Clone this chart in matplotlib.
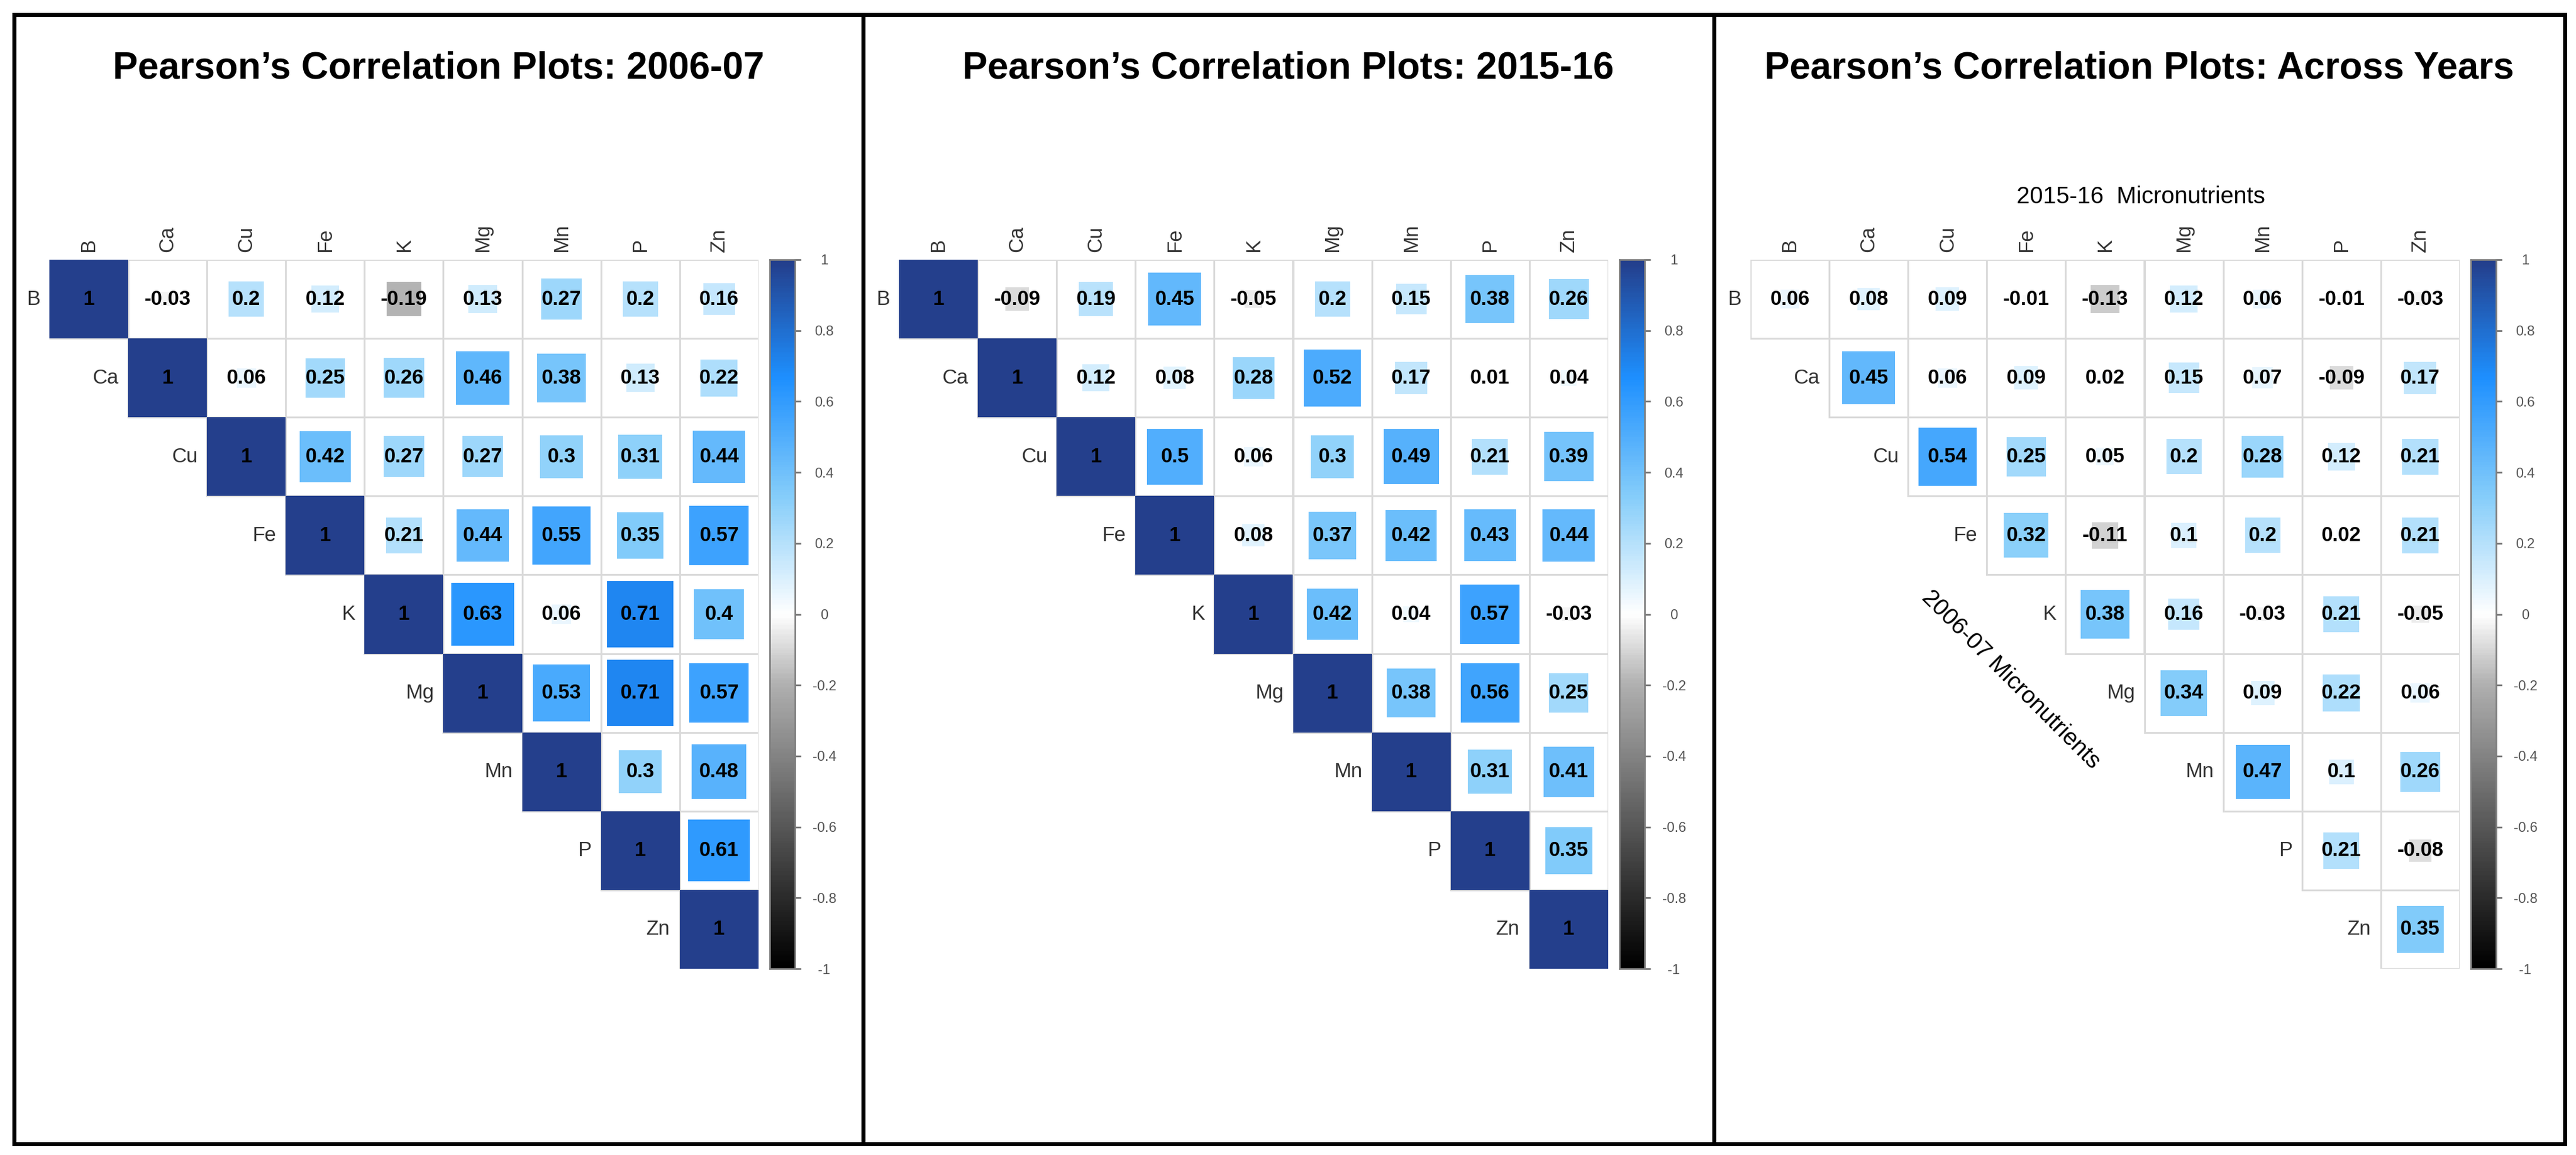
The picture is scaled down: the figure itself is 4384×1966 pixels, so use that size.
import numpy as np
import matplotlib
matplotlib.use("Agg")
import matplotlib.pyplot as plt
from matplotlib import font_manager
from matplotlib.colors import LinearSegmentedColormap
from matplotlib.patches import Rectangle
from matplotlib.lines import Line2D

# ---- data -------------------------------------------------------------
elements = ["B", "Ca", "Cu", "Fe", "K", "Mg", "Mn", "P", "Zn"]

# upper triangle rows (diagonal first)
corr_0607 = [
    [1, -0.03, 0.2, 0.12, -0.19, 0.13, 0.27, 0.2, 0.16],
    [1, 0.06, 0.25, 0.26, 0.46, 0.38, 0.13, 0.22],
    [1, 0.42, 0.27, 0.27, 0.3, 0.31, 0.44],
    [1, 0.21, 0.44, 0.55, 0.35, 0.57],
    [1, 0.63, 0.06, 0.71, 0.4],
    [1, 0.53, 0.71, 0.57],
    [1, 0.3, 0.48],
    [1, 0.61],
    [1],
]

corr_1516 = [
    [1, -0.09, 0.19, 0.45, -0.05, 0.2, 0.15, 0.38, 0.26],
    [1, 0.12, 0.08, 0.28, 0.52, 0.17, 0.01, 0.04],
    [1, 0.5, 0.06, 0.3, 0.49, 0.21, 0.39],
    [1, 0.08, 0.37, 0.42, 0.43, 0.44],
    [1, 0.42, 0.04, 0.57, -0.03],
    [1, 0.38, 0.56, 0.25],
    [1, 0.31, 0.41],
    [1, 0.35],
    [1],
]

corr_across = [
    [0.06, 0.08, 0.09, -0.01, -0.13, 0.12, 0.06, -0.01, -0.03],
    [0.45, 0.06, 0.09, 0.02, 0.15, 0.07, -0.09, 0.17],
    [0.54, 0.25, 0.05, 0.2, 0.28, 0.12, 0.21],
    [0.32, -0.11, 0.1, 0.2, 0.02, 0.21],
    [0.38, 0.16, -0.03, 0.21, -0.05],
    [0.34, 0.09, 0.22, 0.06],
    [0.47, 0.1, 0.26],
    [0.21, -0.08],
    [0.35],
]

titles = [
    "Pearson\u2019s Correlation Plots: 2006-07",
    "Pearson\u2019s Correlation Plots: 2015-16",
    "Pearson\u2019s Correlation Plots: Across Years",
]
cbar_ticks = [-1, -0.8, -0.6, -0.4, -0.2, 0, 0.2, 0.4, 0.6, 0.8, 1]

# ---- setup ------------------------------------------------------------
W, H = 4384, 1966
DPI = 100
fig = plt.figure(figsize=(W / DPI, H / DPI), dpi=DPI)
fig.patch.set_facecolor("white")

names = {f.name for f in font_manager.fontManager.ttflist}
if "Liberation Sans Narrow" in names:
    title_font, title_size = "Liberation Sans Narrow", 50
else:
    title_font, title_size = "Liberation Sans", 46
base_font = "Liberation Sans"

cmap = LinearSegmentedColormap.from_list(
    "corr",
    [(0.0, "#000000"), (0.4, "#b0b0b0"), (0.5, "#ffffff"),
     (0.665, "#87cefa"), (0.835, "#1e90ff"), (1.0, "#243f8c")],
)


def px_axes(x0, y0, x1, y1):
    # pixel box (y from top) -> axes
    return fig.add_axes([x0 / W, 1 - y1 / H, (x1 - x0) / W, (y1 - y0) / H])


def draw_corr(ax, rows):
    n = len(elements)
    ax.set_xlim(0, n)
    ax.set_ylim(n, 0)
    ax.axis("off")
    for i, row in enumerate(rows):
        for k, v in enumerate(row):
            j = i + k
            ax.add_patch(Rectangle((j, i), 1, 1, facecolor="none",
                                   edgecolor="#dadada", lw=2.2, zorder=1))
            s = np.sqrt(abs(v))
            ax.add_patch(Rectangle((j + 0.5 - s / 2, i + 0.5 - s / 2), s, s,
                                   facecolor=cmap((v + 1) / 2),
                                   edgecolor="none", zorder=2))
            ax.text(j + 0.5, i + 0.5, f"{v:g}", ha="center", va="center",
                    fontsize=25, fontweight="bold", family=base_font,
                    color="black", zorder=3)
        ax.text(i - 0.12, i + 0.5, elements[i], ha="right", va="center",
                fontsize=25, family=base_font, color="#333333", clip_on=False)
    for j, name in enumerate(elements):
        ax.text(j + 0.5, -0.1, name, ha="center", va="bottom", rotation=90,
                fontsize=25, family=base_font, color="#333333", clip_on=False)


def draw_cbar(cax):
    grad = np.linspace(-1, 1, 400).reshape(-1, 1)
    cax.imshow(grad, cmap=cmap, vmin=-1, vmax=1, aspect="auto",
               origin="lower", extent=[0, 1, -1, 1])
    cax.set_xticks([])
    cax.yaxis.tick_right()
    cax.set_yticks(cbar_ticks)
    cax.set_yticklabels([f"{t:g}" for t in cbar_ticks])
    cax.tick_params(axis="y", length=7, width=2, color="#707070",
                    pad=29, labelsize=17, labelcolor="#555555")
    for lab in cax.get_yticklabels():
        lab.set_ha("center")
        lab.set_family(base_font)
    for sp in cax.spines.values():
        sp.set_color("#808080")
        sp.set_linewidth(2)


panels = [corr_0607, corr_1516, corr_across]
mat_left = [84, 1530, 2979]
top, bottom = 442, 1649
cell = 134.1
panel_centers = [746, 2192, 3641]

for p, rows in enumerate(panels):
    x0 = mat_left[p]
    x1 = x0 + 9 * cell
    ax = px_axes(x0, top, x1, bottom)
    draw_corr(ax, rows)
    cax = px_axes(x1 + 19, top, x1 + 62, bottom)
    draw_cbar(cax)
    fig.text(panel_centers[p] / W, 1 - 133 / H, titles[p], ha="center",
             va="baseline", fontsize=title_size, fontweight="bold",
             family=title_font)

# across-years axis captions
fig.text(3643 / W, 1 - 335 / H, "2015-16  Micronutrients", ha="center",
         va="center", fontsize=29, family=base_font)
fig.text(3422 / W, 1 - 1157 / H, "2006-07 Micronutrients", ha="center",
         va="center", rotation=-45, fontsize=29, family=base_font,
         rotation_mode="anchor")

# outer frame and dividers
lw = 5
fx = lambda v: v / W
fy = lambda v: 1 - v / H
frame = [
    ([23.5, 4365], [25, 25]),
    ([23.5, 4365], [1946.5, 1946.5]),
    ([23.5, 23.5], [25, 1946.5]),
    ([4365, 4365], [25, 1946.5]),
    ([1468.5, 1468.5], [25, 1946.5]),
    ([2916.5, 2916.5], [25, 1946.5]),
]
for xs, ys in frame:
    fig.add_artist(Line2D([fx(v) for v in xs], [fy(v) for v in ys],
                          color="black", lw=lw, solid_capstyle="projecting"))

fig.savefig("out.png", dpi=DPI, facecolor="white")
